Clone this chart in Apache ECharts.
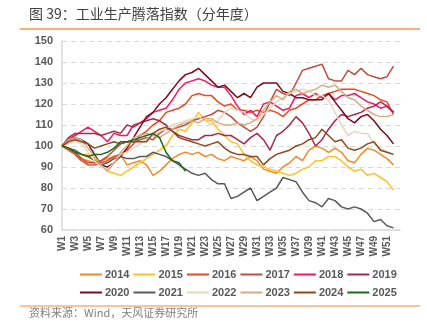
<!DOCTYPE html>
<html><head><meta charset="utf-8">
<script src="https://cdn.jsdelivr.net/npm/echarts@6/dist/echarts.min.js"></script>
<style>html,body{margin:0;padding:0;background:#fff}#c{width:427px;height:333px}</style>
</head><body><div id="c"></div>
<script>
var weeks = [];
for (var i = 1; i <= 52; i++) weeks.push('W' + i);
weeks.push('');
var yTicks = [60, 70, 80, 90, 100, 110, 120, 130, 140, 150];
var years = ['2014','2015','2016','2017','2018','2019','2020','2021','2022','2023','2024','2025'];
var s2014 = [100,99,97,94,93,92,93,94,95,96,91,92,93,91,86,88,91,94,96,97,96,97,95,96,94,93,95,94,93,95,93,89,88,87,90,92,95,93,98,100,99,97,99,97,93,92,96,99,98,96,94,91];
var s2015 = [100,99,97,96,96,94,91,88,87,86,88,90,92,94,96,98,100,105,108,107,111,116,112,112,108,105,102,101,96,93,91,90,89,88,87,86,87,89,90,93,93,95,95,93,90,88,89,86,87,85,83,79];
var s2016 = [100,98,96,93,91,91,92,93,95,96,98,101,105,107,110,112,116,117,118,120,124,125,124,124,121,119,120,117,117,116,117,116,117,116,114,117,118,120,122,122,124,125,126,127,127,127,126,125,124,122,121,115];
var s2017 = [100,99,97,94,92,92,93,95,98,101,102,102,103,104,103,106,108,108,109,110,112,113,114,115,117,116,114,111,109,107,109,114,121,127,125,124,130,136,137,138,139,132,131,131,136,134,137,134,133,132,133,138];
var s2018 = [100,103,105,107,109,107,105,102,106,105,105,110,111,113,116,117,118,122,127,130,131,132,131,129,128,128,124,119,115,117,114,120,121,119,117,118,124,125,123,125,123,125,122,124,124,125,123,121,120,118,119,116];
var s2019 = [100,104,106,106,106,106,105,106,107,106,110,109,111,112,113,112,110,107,105,104,103,103,105,105,106,105,105,103,101,104,106,103,98,105,107,110,114,111,106,100,103,108,112,115,114,115,116,118,119,121,119,116];
var s2020 = [100,103,104,103,101,96,91,90,92,95,99,104,109,114,116,120,123,127,131,134,135,137,134,131,128,129,126,123,125,123,128,130,130,130,126,125,123,123,122,122,122,125,121,117,113,111,114,115,112,108,105,101];
var s2021 = [100,99,98,96,95,93,91,92,94,95,94,94,95,95,97,96,95,93,91,89,87,86,87,84,82,82,75,76,78,80,74,76,78,80,85,84,83,78,74,73,71,75,74,71,70,71,70,68,64,65,62,61];
var s2022 = [100,101,102,101,97,93,90,89,92,96,97,99,101,103,105,107,108,110,111,112,113,114,112,110,112,116,118,117,116,113,112,115,118,121,123,125,126,127,126,124,124,122,116,110,105,107,106,106,101,99,97,96];
var s2023 = [100,103,104,103,99,95,91,88,92,97,100,104,105,106,105,104,106,108,110,111,112,111,113,113,111,110,110,111,110,111,113,117,121,124,122,126,127,125,126,127,129,128,129,126,123,122,119,117,115,114,114,115];
var s2024 = [100,102,103,102,101,99,100,101,102,101,102,102,102,102,106,108,109,107,104,103,102,101,100,101,102,99,97,96,96,95,95,91,94,96,97,98,100,101,103,104,108,105,102,103,99,98,99,101,102,98,97,96];
var s2025 = [100,99,97,96,95,96,96,97,99,102,102,103,104,105,106,104,97,93,92,88];
var seriesData = [s2014,s2015,s2016,s2017,s2018,s2019,s2020,s2021,s2022,s2023,s2024,s2025];
var colors = ['#F58A2C','#FFC125','#E8491D','#BE4D3C','#F01862','#A6284F','#7A0C1C','#595959','#E9D6BC','#D4AD83','#8B4A1E','#1B6B1B'];

var chart = echarts.init(document.getElementById('c'), null, {renderer: 'canvas'});
var series = years.map(function (y, i) {
  return {
    name: y, type: 'line', data: seriesData[i], showSymbol: false, symbol: 'none',
    lineStyle: {width: 1.5, color: colors[i]}, itemStyle: {color: colors[i]},
    z: 2 + i
  };
});
var legendCommon = {
  left: 75, icon: 'rect', itemWidth: 22, itemHeight: 2, itemGap: 4,
  textStyle: {fontSize: 11, fontWeight: 'bold', color: '#595959', fontFamily: 'Liberation Sans, Arial', padding: [0,0,0,-2]}
};
chart.setOption({
  animation: false,
  color: colors,
  textStyle: {fontFamily: 'Liberation Sans, Arial'},
  grid: {left: 62, right: 27, top: 41, bottom: 103, containLabel: false},
  legend: [
    Object.assign({top: 264, data: years.slice(0, 6)}, legendCommon),
    Object.assign({top: 282, data: years.slice(6)}, legendCommon)
  ],
  xAxis: {
    type: 'category', data: weeks, boundaryGap: false,
    axisLine: {lineStyle: {color: '#D9D9D9', width: 1.5}},
    axisTick: {show: false},
    axisLabel: {interval: 1, rotate: 90, fontSize: 10, fontWeight: 'bold', color: '#595959', margin: 6}
  },
  yAxis: {
    type: 'value', min: yTicks[0], max: yTicks[yTicks.length - 1], interval: 10,
    axisLine: {show: true, lineStyle: {color: '#D9D9D9', width: 1.5}},
    axisTick: {show: false},
    axisLabel: {fontSize: 11, fontWeight: 'bold', color: '#595959', margin: 9},
    splitLine: {lineStyle: {color: '#D9D9D9', type: [5, 4], width: 1}}
  },
  graphic: [
    {type: 'text', left: 29, top: 7, style: {text: '图 39：工业生产腾落指数（分年度）', fontSize: 14, fill: '#404040', fontFamily: 'Noto Sans CJK SC'}},
    {type: 'line', shape: {x1: 20, y1: 29, x2: 420, y2: 29}, style: {stroke: '#F39A45', lineWidth: 1.5}},
    {type: 'line', shape: {x1: 20, y1: 306, x2: 420, y2: 306}, style: {stroke: '#F6B07A', lineWidth: 1.5}},
    {type: 'text', left: 29, top: 307, style: {text: '资料来源：Wind，天风证券研究所', fontSize: 11, fill: '#7F7F7F', fontFamily: 'Noto Sans CJK SC'}}
  ],
  series: series
});
</script></body></html>
